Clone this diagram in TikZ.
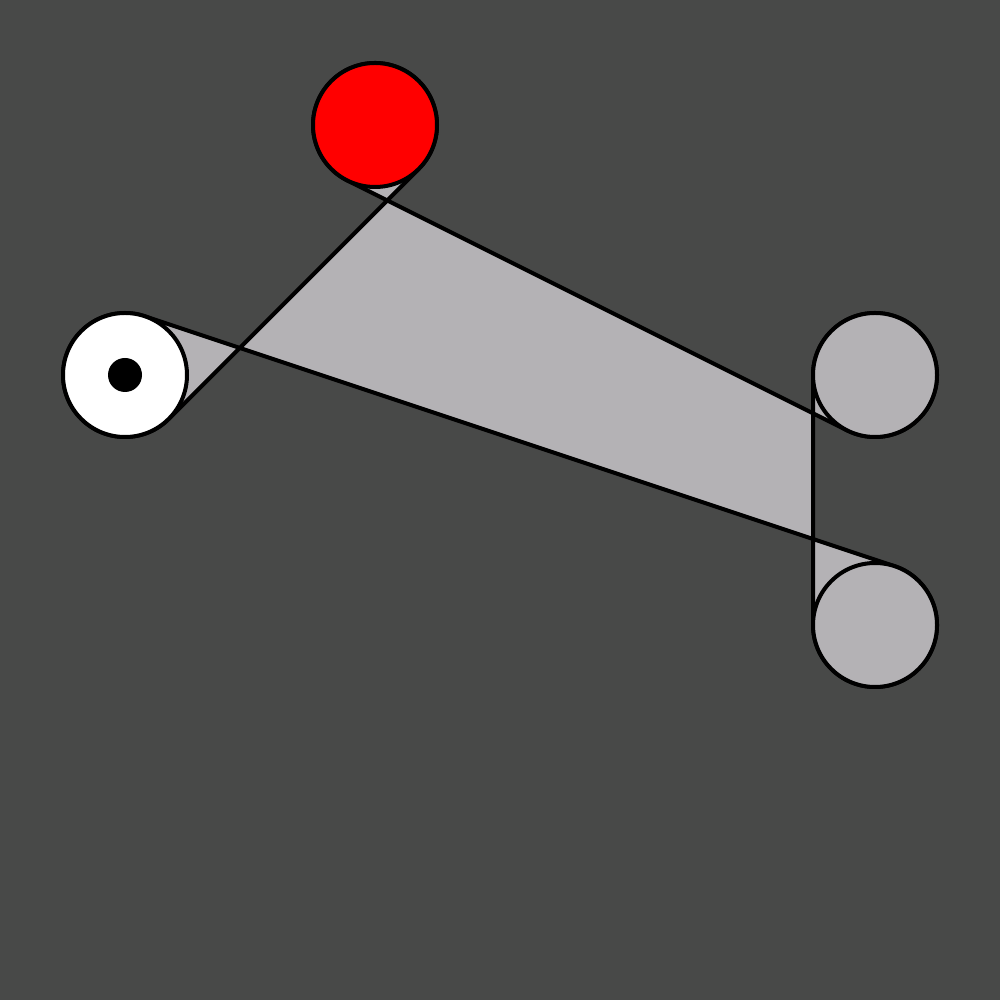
\documentclass[tikz,border=0pt]{standalone}
\usepackage{tikz}
\usetikzlibrary{calc, positioning, backgrounds}

\definecolor{bgGray}{HTML}{484948}
\definecolor{beltGray}{HTML}{B4B2B5}

\begin{document}
\begin{tikzpicture}[on grid, line width=0.08cm,
    pulley/.style={circle,draw,minimum size=2.48cm,inner sep=0pt,outer sep=0pt},
    hub/.style={circle,fill=black,minimum size=0.68cm,inner sep=0pt},
    belt/.style={draw,fill=beltGray,line width=0.08cm,line join=round}]

    \useasboundingbox (0,0) rectangle (20,20);

    \node[pulley, fill=white]    (idler) at (2.5,12.5)                   {};
    \node[hub]                   (hubA)  at (idler)                      {};
    \node[pulley, fill=red]      (drive) [above right=5cm and 5cm of idler] {};
    \node[pulley, fill=beltGray] (upper) [below right=5cm and 10cm of drive] {};
    \node[pulley, fill=beltGray] (lower) [below=5cm of upper]            {};

    \begin{scope}[on background layer]
        \fill[bgGray] (0,0) rectangle (20,20);
        % belt, clockwise round all four pulleys
        \path[belt] ($(idler)+(71.57:1.24)$) -- ($(lower)+(71.57:1.24)$)
            arc[start angle=71.57, end angle=-180, radius=1.24]
            -- ($(upper)+(180:1.24)$)
            arc[start angle=180, end angle=-116.57, radius=1.24]
            -- ($(drive)+(-116.57:1.24)$)
            arc[start angle=243.43, end angle=-45, radius=1.24]
            -- ($(idler)+(-45:1.24)$)
            arc[start angle=-45, end angle=-288.43, radius=1.24]
            -- cycle;
    \end{scope}
\end{tikzpicture}
\end{document}
